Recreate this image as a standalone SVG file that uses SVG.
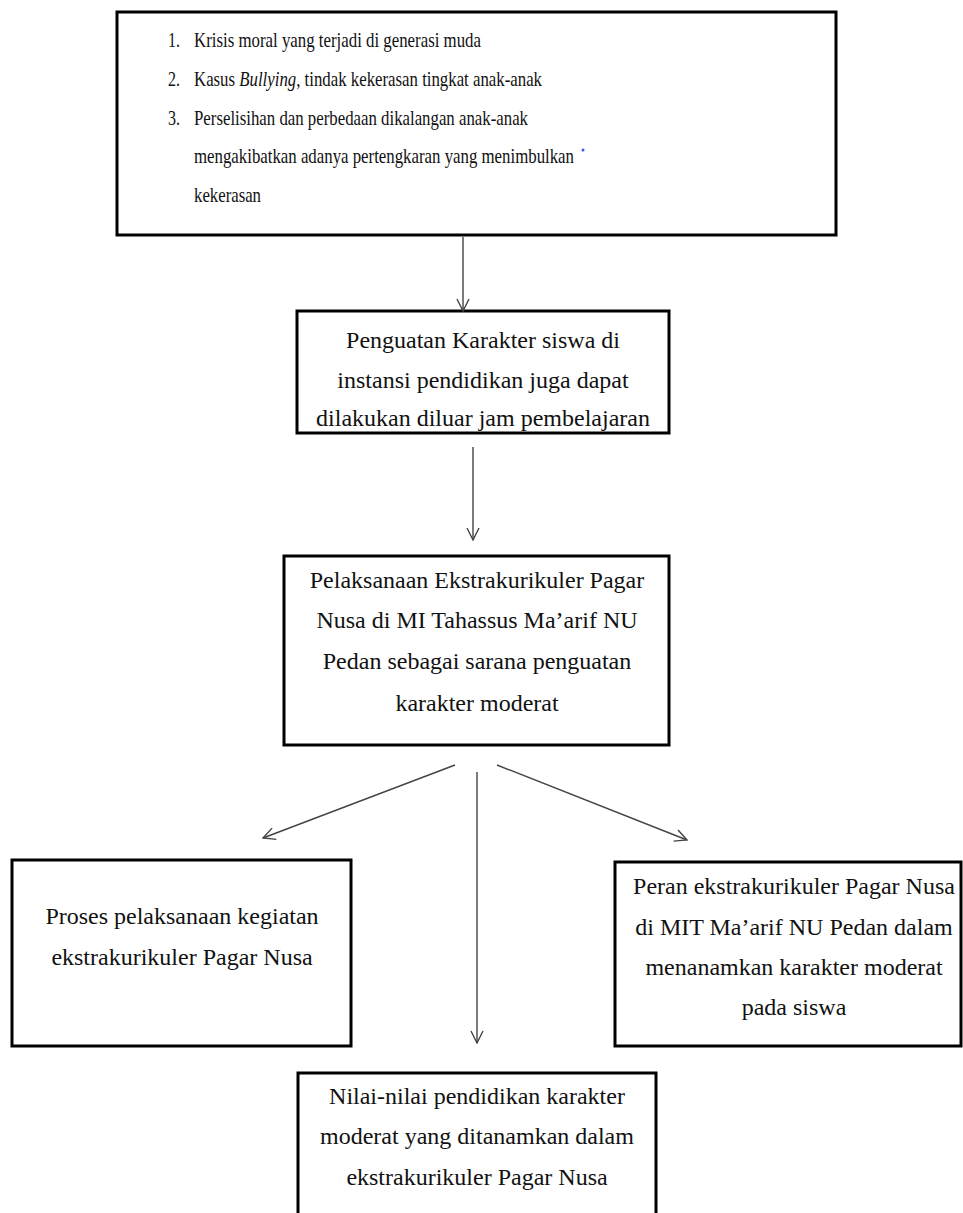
<svg xmlns="http://www.w3.org/2000/svg" width="963" height="1213" viewBox="0 0 963 1213">
<defs>
<style>
.box{fill:#fff;stroke:#000;stroke-width:3}
.t{font-family:"Liberation Serif","Times New Roman",serif;font-size:24px;fill:#111}
.s{font-size:22px}
.i{font-style:italic}
.c{text-anchor:middle}
.conn line{stroke:#444;stroke-width:1.4;fill:none}
</style>
<marker id="ah" viewBox="0 0 14 14" refX="13" refY="7" markerWidth="14" markerHeight="14" markerUnits="userSpaceOnUse" orient="auto">
<polyline points="1,1 13,7 1,13" fill="none" stroke="#444" stroke-width="1.4"/>
</marker>
</defs>
<rect width="963" height="1213" fill="#fff"/>

<g id="n-masalah">
<rect class="box" x="117" y="12" width="719" height="223"/>
<text class="t s" x="168" y="47" textLength="12" lengthAdjust="spacingAndGlyphs">1.</text>
<text class="t s" x="194" y="47" textLength="287" lengthAdjust="spacingAndGlyphs">Krisis moral yang terjadi di generasi muda</text>
<text class="t s" x="168" y="86" textLength="12" lengthAdjust="spacingAndGlyphs">2.</text>
<text class="t s" x="194" y="86" textLength="348" lengthAdjust="spacingAndGlyphs">Kasus <tspan class="i">Bullying</tspan>, tindak kekerasan tingkat anak-anak</text>
<text class="t s" x="168" y="125" textLength="12" lengthAdjust="spacingAndGlyphs">3.</text>
<text class="t s" x="194" y="125" textLength="334" lengthAdjust="spacingAndGlyphs">Perselisihan dan perbedaan dikalangan anak-anak</text>
<text class="t s" x="194" y="163" textLength="380" lengthAdjust="spacingAndGlyphs">mengakibatkan adanya pertengkaran yang menimbulkan</text>
<text class="t s" x="194" y="202" textLength="67" lengthAdjust="spacingAndGlyphs">kekerasan</text>
<circle cx="583" cy="150" r="1.5" fill="#3355ff"/>
</g>

<g id="n-penguatan">
<rect class="box" x="297" y="311" width="372" height="122"/>
<text class="t c" x="483" y="348">Penguatan Karakter siswa di</text>
<text class="t c" x="483" y="388">instansi pendidikan juga dapat</text>
<text class="t c" x="483" y="426">dilakukan diluar jam pembelajaran</text>
</g>

<g id="n-pelaksanaan">
<rect class="box" x="284" y="556" width="385" height="189"/>
<text class="t c" x="477" y="588">Pelaksanaan Ekstrakurikuler Pagar</text>
<text class="t c" x="477" y="628">Nusa di MI Tahassus Ma’arif NU</text>
<text class="t c" x="477" y="669">Pedan sebagai sarana penguatan</text>
<text class="t c" x="477" y="711">karakter moderat</text>
</g>

<g id="n-proses">
<rect class="box" x="12" y="860" width="339" height="186"/>
<text class="t c" x="182" y="924">Proses pelaksanaan kegiatan</text>
<text class="t c" x="182" y="965">ekstrakurikuler Pagar Nusa</text>
</g>

<g id="n-peran">
<rect class="box" x="615" y="862" width="346" height="184"/>
<text class="t c" x="794" y="894">Peran ekstrakurikuler Pagar Nusa</text>
<text class="t c" x="794" y="935">di MIT Ma’arif NU Pedan dalam</text>
<text class="t c" x="794" y="975">menanamkan karakter moderat</text>
<text class="t c" x="794" y="1015">pada siswa</text>
</g>

<g id="n-nilai">
<rect class="box" x="298" y="1073" width="358" height="160"/>
<text class="t c" x="477" y="1104">Nilai-nilai pendidikan karakter</text>
<text class="t c" x="477" y="1144">moderat yang ditanamkan dalam</text>
<text class="t c" x="477" y="1185">ekstrakurikuler Pagar Nusa</text>
</g>

<g id="connectors" class="conn">
<line x1="463" y1="237" x2="463" y2="311" marker-end="url(#ah)"/>
<line x1="473" y1="447" x2="473" y2="540" marker-end="url(#ah)"/>
<line x1="455" y1="765" x2="263" y2="838" marker-end="url(#ah)"/>
<line x1="477" y1="772" x2="477" y2="1043" marker-end="url(#ah)"/>
<line x1="497" y1="765" x2="687" y2="840" marker-end="url(#ah)"/>
</g>
</svg>
